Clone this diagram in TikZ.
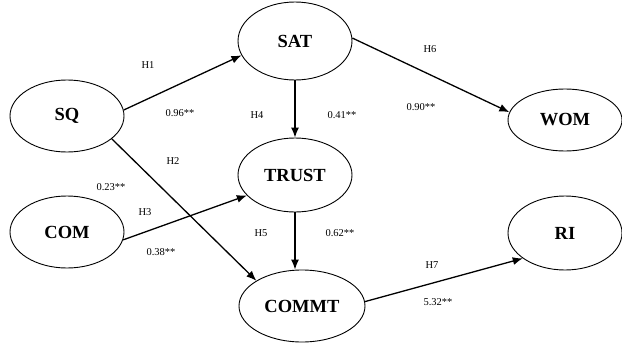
\documentclass[tikz,border=0pt]{standalone}
\usepackage{fontspec}
\setmainfont{Liberation Serif}
\usetikzlibrary{shapes.geometric,arrows.meta}

\tikzset{
  construct/.style={draw, ellipse, line width=0.9pt, inner sep=0pt,
    minimum width=114pt, minimum height=72pt, font=\fontsize{18.5}{18.5}\selectfont\bfseries},
  path/.style={line width=1.3pt, -{Latex[length=10pt,width=8pt]}},
  coef/.style={font=\fontsize{10.5}{10.5}\selectfont, inner sep=1pt}
}

\begin{document}
\begin{tikzpicture}[x=1pt,y=-1pt]

\def\xl{67}; % left column
\def\xm{295}; % middle column
\def\xr{565}; % right column

\useasboundingbox (0,0) rectangle (622,343);

% constructs
\node[construct] (sq) at (\xl,116) {SQ};
\node[construct] (com) at (\xl,232) {COM};
\node[construct, minimum height=78pt] (sat) at (\xm,41) {SAT};
\node[construct, minimum height=74pt] (trust) at (\xm,175) {TRUST};
\node[construct, minimum width=126pt, minimum height=72pt] (commt) at (302,306) {COMMT};
\node[construct, minimum height=62pt] (wom) at (\xr,120) {WOM};
\node[construct, minimum height=74pt] (ri) at (\xr,233) {RI};

% paths
\draw[path] (sq.6) -- (sat.195);
\draw[path] (sq.333) -- (commt.151);
\draw[path] (sat.south) -- (trust.north);
\draw[path] (com.352) -- (trust.203);
\draw[path] (trust.south) -- (trust.south |- commt.north);
\draw[path] (sat.3) -- (wom.172);
\draw[path] (commt.4) -- (ri.211);

% hypotheses and coefficients
\node[coef] (h1) at (148,65) {H1};
\node[coef] (c1) at (180,113) {0.96**};
\node[coef] (h2) at (173,161) {H2};
\node[coef] (c2) at (111,187) {0.23**};
\node[coef] (h3) at (145,212) {H3};
\node[coef] (c3) at (161,252) {0.38**};
\node[coef] (h4) at (257,115) {H4};
\node[coef] (c4) at (342,115) {0.41**};
\node[coef] (h5) at (261,233) {H5};
\node[coef] (c5) at (340,233) {0.62**};
\node[coef] (h6) at (430,49) {H6};
\node[coef] (c6) at (421,107) {0.90**};
\node[coef] (h7) at (432,265) {H7};
\node[coef] (c7) at (438,302) {5.32**};

\end{tikzpicture}
\end{document}
